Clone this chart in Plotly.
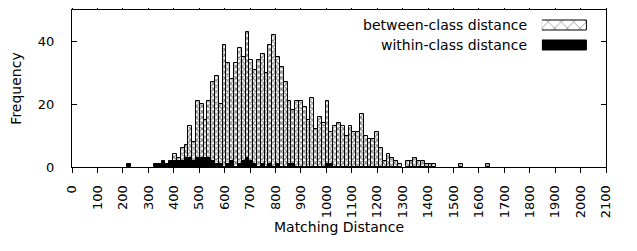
import plotly.graph_objects as go

# Histogram bins (bin centres, width 15) and counts
between_bins = [375, 390, 405, 420, 435, 450, 465, 480, 495, 510, 525, 540, 555, 570, 585,
                600, 615, 630, 645, 660, 675, 690, 705, 720, 735, 750, 765, 780, 795, 810,
                825, 840, 855, 870, 885, 900, 915, 930, 945, 960, 975, 990, 1005, 1020, 1035,
                1050, 1065, 1080, 1095, 1110, 1125, 1140, 1155, 1170, 1185, 1200, 1215, 1230,
                1245, 1260, 1275, 1290, 1320, 1335, 1350, 1365, 1380, 1395, 1410, 1425,
                1530, 1635]
between_counts = [1, 1, 4, 3, 6, 7, 13, 8, 21, 20, 15, 21, 27, 29, 20,
                  39, 33, 28, 33, 38, 35, 43, 34, 31, 34, 36, 30, 39, 42, 35,
                  32, 27, 21, 18, 21, 21, 19, 15, 22, 12, 16, 14, 21, 11, 13,
                  14, 13, 10, 13, 11, 11, 17, 10, 9, 9, 11, 6, 2,
                  4, 3, 2, 1, 2, 2, 3, 2, 2, 1, 1, 1,
                  1, 1]

within_bins = [225, 330, 345, 360, 375, 390, 405, 420, 435, 450, 465, 480, 495, 510, 525,
               540, 555, 570, 585, 615, 630, 660, 675, 690, 705, 720, 750, 780, 810, 855,
               870, 1005, 1020]
within_counts = [1, 1, 1, 2, 1, 2, 2, 2, 2, 3, 3, 2, 3, 3, 3,
                 3, 2, 1, 1, 1, 2, 1, 2, 3, 2, 1, 1, 1, 1, 1,
                 1, 1, 1]

series_names = ["between-class distance", "within-class distance"]
x_ticks = list(range(0, 2101, 100))
y_ticks = [0, 20, 40]

FONT = "DejaVu Sans"
hatch = dict(shape="x", fgcolor="black", bgcolor="white", size=4, solidity=0.5)

fig = go.Figure()
fig.add_bar(x=between_bins, y=between_counts, width=15, name=series_names[0],
            marker=dict(color="white", pattern=hatch, line=dict(color="black", width=1)))
fig.add_bar(x=within_bins, y=within_counts, width=15, name=series_names[1],
            marker=dict(color="black", line=dict(color="black", width=1)))

# custom legend swatches (wide boxes to the right of the text)
fig.add_bar(x=[1], y=[1.5], base=[0], orientation="h", width=0.5, xaxis="x2", yaxis="y2",
            cliponaxis=False, showlegend=False,
            marker=dict(color="white",
                        pattern=dict(shape="x", fgcolor="black", bgcolor="white", size=9, solidity=0.15),
                        line=dict(color="black", width=1)))
fig.add_bar(x=[1], y=[0.5], base=[0], orientation="h", width=0.5, xaxis="x2", yaxis="y2",
            cliponaxis=False, showlegend=False,
            marker=dict(color="black", line=dict(color="black", width=1)))

fig.add_annotation(text=series_names[0], xref="paper", yref="paper", x=0.854, y=0.904,
                   xanchor="right", yanchor="middle", showarrow=False, borderpad=0,
                   font=dict(family=FONT, size=14, color="black"))
fig.add_annotation(text=series_names[1], xref="paper", yref="paper", x=0.854, y=0.776,
                   xanchor="right", yanchor="middle", showarrow=False, borderpad=0,
                   font=dict(family=FONT, size=14, color="black"))

# The page body has an 8px margin, so the figure is 8px smaller and margins shifted.
fig.update_layout(
    width=629, height=243,
    margin=dict(l=64, r=31, t=2, b=84, autoexpand=False),
    paper_bgcolor="white", plot_bgcolor="white",
    barmode="overlay", bargap=0,
    showlegend=False,
    font=dict(family=FONT, size=13, color="black"),
    xaxis=dict(range=[0, 2100], tickvals=x_ticks, ticktext=[str(v) for v in x_ticks],
               tickangle=-90, ticks="outside", ticklen=5, tickwidth=1, tickcolor="black",
               showline=True, linecolor="black", linewidth=1, mirror="ticks",
               showgrid=False, zeroline=False, ticklabelstandoff=7, automargin=False,
               tickfont=dict(family=FONT, size=13),
               title=dict(text="Matching Distance", font=dict(family=FONT, size=14), standoff=4)),
    yaxis=dict(range=[0, 50], tickvals=y_ticks, ticks="inside", ticklen=5, tickwidth=1,
               tickcolor="black", showline=True, linecolor="black", linewidth=1, mirror="ticks",
               showgrid=False, zeroline=False, ticklabelstandoff=14, automargin=False,
               tickfont=dict(family=FONT, size=13),
               title=dict(text="Frequency", font=dict(family=FONT, size=14), standoff=16)),
    xaxis2=dict(domain=[0.880, 0.9644], range=[0, 1], visible=False, anchor="y2", fixedrange=True),
    yaxis2=dict(domain=[0.7134, 0.965], range=[0, 2], visible=False, anchor="x2", fixedrange=True),
)

fig.write_html("out.html")
